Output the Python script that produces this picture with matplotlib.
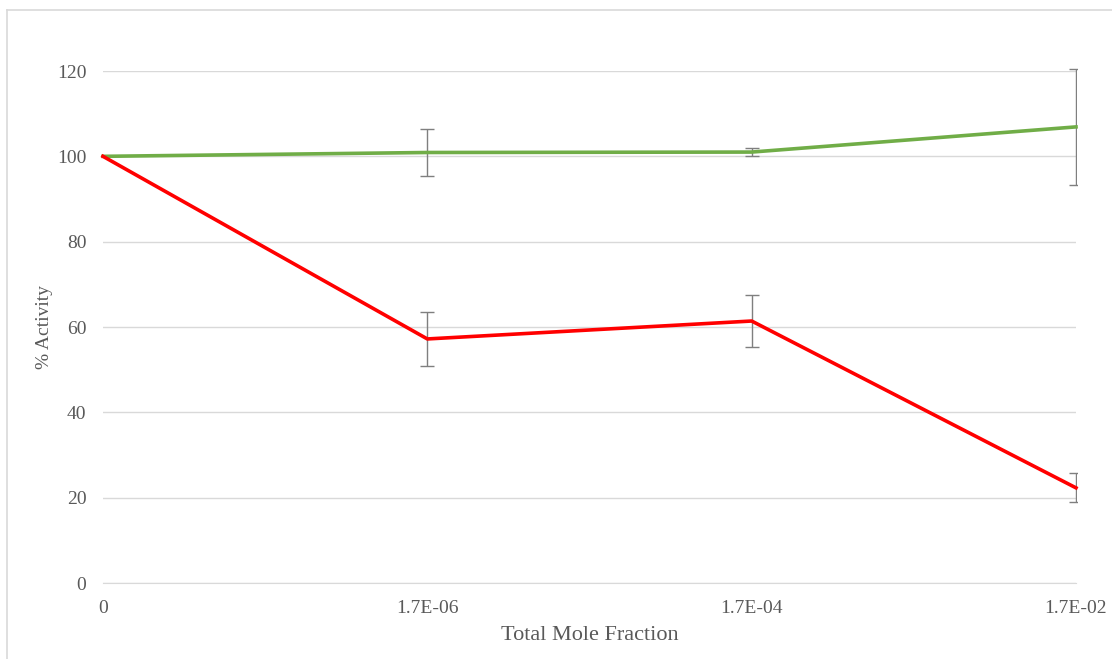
import matplotlib.pyplot as plt
from matplotlib.lines import Line2D
from matplotlib.patches import Rectangle

fracciones = ['0', '1.7E-06', '1.7E-04', '1.7E-02']
actividad_verde = [100, 100.9, 101.0, 106.9]
error_verde = [0, 5.6, 1.0, 13.6]
actividad_roja = [100, 57.2, 61.4, 22.3]
error_roja = [0, 6.4, 6.1, 3.4]

plt.rcParams['font.family'] = ['Liberation Serif', 'DejaVu Serif']

fig = plt.figure(figsize=(11.12, 6.59), dpi=100)
ax = fig.add_axes([103 / 1112, 1 - 583 / 659, (1076 - 103) / 1112, (583 - 71) / 659])

x = range(len(fracciones))

# recorte solo en horizontal para que las barras de error pasen de 120
recorte = Rectangle((-0.001, -0.2), 1.002, 1.4, transform=ax.transAxes, visible=False)
ax.add_patch(recorte)

# lineas de datos con barras de error
for y, err, color in [(actividad_verde, error_verde, '#70ad47'),
                      (actividad_roja, error_roja, '#ff0000')]:
    ax.plot(x, y, color=color, linewidth=2.6, zorder=3, clip_on=False)
    _, caps, barras = ax.errorbar(x, y, yerr=err, fmt='none', ecolor='#7f7f7f',
                                  elinewidth=1, capsize=5, capthick=1, zorder=2)
    for artista in list(caps) + list(barras):
        artista.set_clip_path(recorte)

ax.set_xlim(0, 3)
ax.set_ylim(0, 120)
ax.set_yticks(range(0, 121, 20))
ax.set_xticks(list(x))
ax.set_xticklabels(fracciones)

ax.yaxis.grid(True, color='#d9d9d9', linewidth=1)
ax.set_axisbelow(True)
for lado in ['left', 'right', 'top']:
    ax.spines[lado].set_visible(False)
ax.spines['bottom'].set_color('#d9d9d9')
ax.tick_params(length=0, labelsize=14, labelcolor='#595959', pad=12)
ax.tick_params(axis='y', pad=12)

ax.set_xlabel('Total Mole Fraction', fontsize=16, color='#595959', labelpad=7)
ax.set_ylabel('% Activity', fontsize=14, color='#595959', labelpad=3)

# borde del area del grafico
fig.add_artist(Line2D([7 / 1112, 7 / 1112], [0, 1 - 10 / 659], color='#d9d9d9',
                      linewidth=1.2, transform=fig.transFigure))
fig.add_artist(Line2D([7 / 1112, 1], [1 - 10 / 659, 1 - 10 / 659], color='#d9d9d9',
                      linewidth=1.2, transform=fig.transFigure))

fig.savefig('out.png', dpi=100)
